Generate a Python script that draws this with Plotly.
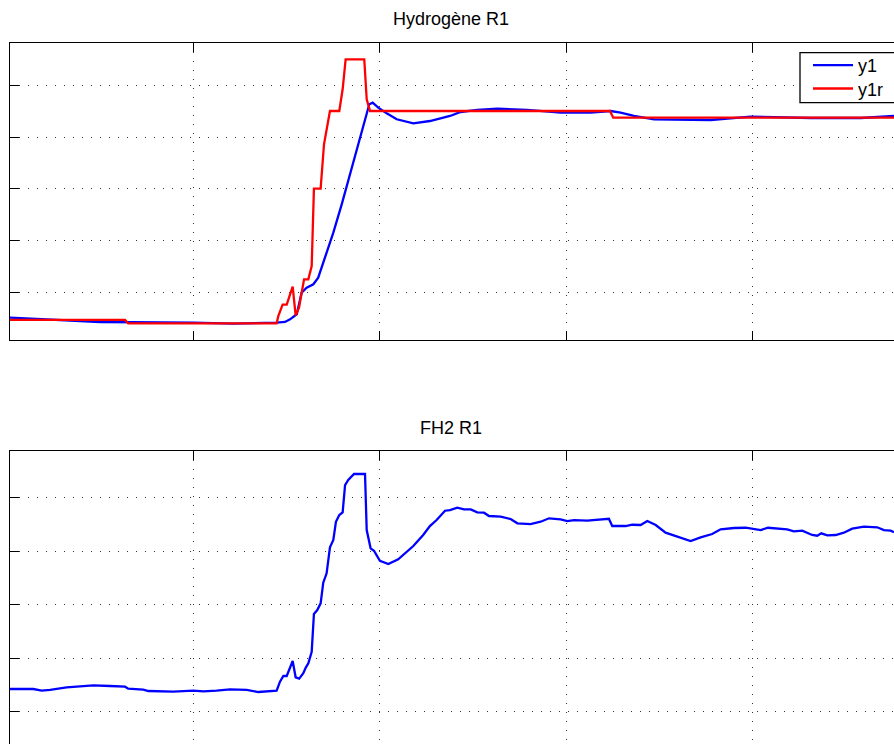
import plotly.graph_objects as go

# ---------------- data ----------------
# Top panel: Hydrogène R1
x_y1 = [1.7, 50.0, 100.0, 121.5, 144.7, 149.2, 151.9, 155.5, 158.1, 160.8, 164.4, 167.0, 170.6, 175.1,
        179.6, 184.0, 188.5, 192.1, 194.4, 196.2, 199.2, 203.7, 209.1, 218.0, 226.9, 237.7, 243.4,
        252.3, 263.0, 279.1, 297.0, 313.1, 323.8, 329.2, 336.3, 347.1, 377.5, 398.9, 431.1, 457.9, 475.8]
y1 = [0.509, 0.426, 0.413, 0.393, 0.413, 0.426, 0.478, 0.575, 0.992, 1.089, 1.155, 1.282, 1.669, 2.152,
      2.700, 3.280, 3.891, 4.343, 4.633, 4.664, 4.567, 4.459, 4.343, 4.266, 4.310, 4.407, 4.484,
      4.523, 4.548, 4.523, 4.471, 4.471, 4.503, 4.471, 4.407, 4.343, 4.329, 4.393, 4.368, 4.368, 4.407]

x_y1r = [1.7, 63.4, 65.1, 144.7, 145.6, 147.9, 150.1, 153.3, 154.9, 156.7, 159.4, 161.7, 163.5, 164.7,
         168.3, 170.1, 173.3, 178.3, 180.1, 181.7, 191.7, 193.0, 194.8, 323.5, 325.2, 475.8]
y1r = [0.465, 0.465, 0.401, 0.401, 0.542, 0.760, 0.760, 1.108, 0.556, 0.702, 1.251, 1.251, 1.508, 3.002,
       3.002, 3.860, 4.503, 4.503, 4.923, 5.502, 5.502, 4.729, 4.503, 4.503, 4.374, 4.374]

# Bottom panel: FH2 R1
x_fh2 = [1.7, 14.2, 18.7, 23.2, 32.1, 39.2, 46.4, 55.3, 63.4, 65.1, 73.2, 75.9, 89.3, 100.0, 105.4,
         112.5, 119.7, 128.6, 134.9, 144.7, 146.5, 148.3, 150.1, 153.3, 154.9, 156.8, 159.0, 160.4,
         161.7, 163.5, 164.7, 166.5, 168.3, 169.7, 171.5, 173.3, 175.1, 176.5, 178.3, 180.1, 181.4,
         183.1, 186.2, 192.1, 193.0, 195.1, 196.9, 200.1, 204.6, 209.9, 218.0, 223.3, 226.9, 230.5,
         235.0, 237.7, 241.6, 245.2, 248.8, 252.3, 255.9, 258.6, 264.9, 270.2, 273.8, 280.9, 286.3,
         290.8, 297.0, 300.6, 304.2, 311.3, 316.7, 322.9, 324.7, 331.9, 335.4, 339.9, 343.5, 348.0,
         353.3, 361.4, 366.7, 372.1, 378.3, 382.8, 390.0, 396.2, 404.3, 408.2, 413.2, 418.5, 422.1,
         426.6, 431.9, 434.6, 436.8, 440.0, 444.5, 448.9, 453.4, 459.7, 466.8, 470.4, 474.0, 475.8]
fh2 = [1.424, 1.424, 1.393, 1.406, 1.456, 1.480, 1.493, 1.480, 1.467, 1.430, 1.411, 1.387, 1.374, 1.393, 1.381,
       1.393, 1.419, 1.406, 1.368, 1.393, 1.561, 1.667, 1.667, 1.948, 1.643, 1.617, 1.718, 1.830,
       1.905, 2.121, 2.826, 2.901, 3.026, 3.411, 3.587, 4.073, 4.209, 4.551, 4.677, 4.727, 5.237,
       5.331, 5.443, 5.443, 4.396, 4.054, 4.009, 3.822, 3.761, 3.849, 4.097, 4.303, 4.471, 4.583,
       4.757, 4.770, 4.813, 4.783, 4.783, 4.727, 4.720, 4.658, 4.645, 4.602, 4.521, 4.508, 4.551,
       4.615, 4.596, 4.564, 4.583, 4.570, 4.583, 4.607, 4.471, 4.471, 4.495, 4.490, 4.564, 4.490,
       4.346, 4.260, 4.191, 4.260, 4.321, 4.409, 4.434, 4.439, 4.396, 4.439, 4.421, 4.409, 4.372,
       4.383, 4.303, 4.290, 4.334, 4.297, 4.303, 4.346, 4.421, 4.458, 4.447, 4.396, 4.383, 4.353]

titles = ["Hydrogène R1", "FH2 R1"]
x_ticks = [100, 200, 300, 400]
y_ticks = [1, 2, 3, 4, 5]

# ---------------- figure ----------------
W, H = 894, 744
FONT = "Liberation Sans, Arial, Helvetica, sans-serif"
LW = 2.3


def px_x(p):  # page x -> paper x
    return p / W


def px_y(p):  # page y -> paper y
    return 1 - p / H


fig = go.Figure()
fig.add_trace(go.Scatter(x=x_y1, y=y1, mode="lines", name="y1", legend="legend",
                         line=dict(color="#0000FF", width=LW), xaxis="x", yaxis="y"))
fig.add_trace(go.Scatter(x=x_y1r, y=y1r, mode="lines", name="y1r", legend="legend2",
                         line=dict(color="#FF0000", width=LW), xaxis="x", yaxis="y"))
fig.add_trace(go.Scatter(x=x_fh2, y=fh2, mode="lines", name="FH2", showlegend=False,
                         line=dict(color="#0000FF", width=LW), xaxis="x2", yaxis="y2"))

grid = dict(showgrid=True, gridcolor="#333333", gridwidth=1, griddash="1px,8px",
            zeroline=False, showticklabels=False, ticks="inside", ticklen=9,
            tickcolor="#000000", tickwidth=1, showline=True, linecolor="#000000", linewidth=1)

leg = dict(xanchor="left", yanchor="top", bgcolor="rgba(0,0,0,0)", borderwidth=0,
           itemwidth=40, font=dict(family=FONT, size=18), tracegroupgap=0)

xr = [1.7, 475.8]
fig.update_layout(
    width=W, height=H, margin=dict(l=0, r=0, t=0, b=0),
    paper_bgcolor="white", plot_bgcolor="white",
    font=dict(family=FONT, color="#000000", size=18),
    xaxis=dict(domain=[px_x(10), 1.0], range=xr, anchor="y", tickvals=x_ticks, mirror="ticks", **grid),
    yaxis=dict(domain=[px_y(340), px_y(42.7)], range=[0.078, 5.823], anchor="x",
               tickvals=y_ticks, **grid),
    xaxis2=dict(domain=[px_x(10), 1.0], range=xr, anchor="y2", side="top", tickvals=x_ticks, **grid),
    yaxis2=dict(domain=[0.0, px_y(450.7)], range=[0.396, 5.879], anchor="x2",
                tickvals=y_ticks, **grid),
    legend=dict(x=px_x(808), y=px_y(47), **leg),
    legend2=dict(x=px_x(808), y=px_y(70.3), **leg),
    showlegend=True,
)

# legend frame (extends past the right edge of the picture, as in the original)
fig.add_shape(type="rect", xref="paper", yref="paper",
              x0=px_x(800), x1=px_x(960), y0=px_y(102.7), y1=px_y(52.7),
              line=dict(color="#000000", width=1.3), fillcolor="white", layer="above")

fig.add_annotation(text=titles[0], xref="paper", yref="paper", x=px_x(451), y=px_y(19),
                   xanchor="center", yanchor="middle", showarrow=False,
                   font=dict(family=FONT, size=18))
fig.add_annotation(text=titles[1], xref="paper", yref="paper", x=px_x(451), y=px_y(428),
                   xanchor="center", yanchor="middle", showarrow=False,
                   font=dict(family=FONT, size=18))

fig.write_html("out.html", config={"displayModeBar": False},
               post_script="document.body.style.margin='0';document.body.style.overflow='hidden';")
